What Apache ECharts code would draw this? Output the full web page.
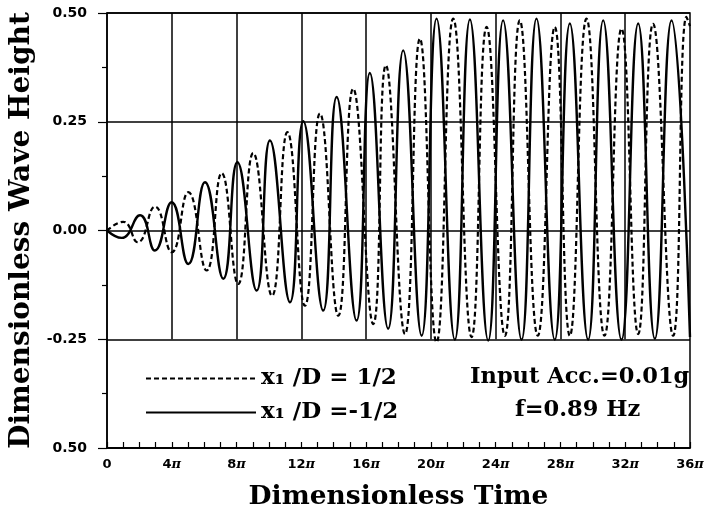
<!DOCTYPE html>
<html>
<head>
<meta charset="utf-8">
<script src="https://cdn.jsdelivr.net/npm/echarts@6/dist/echarts.min.js"></script>
<style>
	html, body { margin: 0; padding: 0; background: #fff; }
	#P1 { width: 706px; height: 506px; }
</style>
</head>
<body>
<div id="P1"></div>
<script>
var dashT = [0, 1.0, 1.9, 2.96, 4.0, 5.02, 6.15, 7.08, 8.1, 9.03, 10.19, 11.14, 12.22, 13.15, 14.28, 15.2, 16.44, 17.22, 18.4, 19.32, 20.35, 21.38, 22.51, 23.44, 24.57, 25.49, 26.6, 27.65, 28.58, 29.61, 30.72, 31.77, 32.8, 33.72, 34.96, 35.78, 36.0];
var dashV = [0, 0.02, -0.027, 0.055, -0.05, 0.088, -0.092, 0.132, -0.123, 0.178, -0.150, 0.226, -0.173, 0.269, -0.196, 0.326, -0.215, 0.380, -0.238, 0.441, -0.257, 0.487, -0.245, 0.468, -0.242, 0.483, -0.242, 0.468, -0.242, 0.487, -0.242, 0.464, -0.238, 0.475, -0.242, 0.491, 0.47];

var solidT = [0, 0.9, 2.04, 2.96, 3.99, 5.02, 6.05, 7.18, 8.05, 9.24, 10.06, 11.3, 12.12, 13.35, 14.18, 15.41, 16.23, 17.36, 18.29, 19.43, 20.35, 21.48, 22.41, 23.54, 24.46, 25.6, 26.52, 27.65, 28.58, 29.71, 30.64, 31.77, 32.8, 33.83, 34.86, 36.0];
var solidV = [0, -0.017, 0.035, -0.046, 0.065, -0.077, 0.111, -0.111, 0.157, -0.138, 0.207, -0.165, 0.251, -0.184, 0.307, -0.207, 0.362, -0.226, 0.414, -0.242, 0.487, -0.251, 0.485, -0.253, 0.483, -0.251, 0.487, -0.251, 0.476, -0.251, 0.483, -0.251, 0.476, -0.249, 0.483, -0.245];

var seriesNames = ['x\u2081 /D = 1/2', 'x\u2081 /D =-1/2'];
var xTickLabels = ['0', '4\u03c0', '8\u03c0', '12\u03c0', '16\u03c0', '20\u03c0', '24\u03c0', '28\u03c0', '32\u03c0', '36\u03c0'];
var yTickLabels = ['0.50', '-0.25', '0.00', '0.25', '0.50']; // bottom one is printed without the minus in the original
var vGridTicks = [4, 8, 12, 16, 20, 24, 28, 32];
var notes = ['Input Acc.=0.01g', 'f=0.89 Hz'];

function pairs(t, v) {
	var out = [];
	for (var i = 0; i < t.length; i++) {
		out.push([t[i], v[i]]);
	}
	return out;
}

function drawChart() {
	var myChart = echarts.init(document.getElementById('P1'));
	var serif = 'DejaVu Serif';

	// vertical grid lines only run down to the -0.25 line, the legend sits below
	var vLines = [];
	for (var i = 0; i < vGridTicks.length; i++) {
		vLines.push([{ coord: [vGridTicks[i], 0.5] }, { coord: [vGridTicks[i], -0.25] }]);
	}

	var option = {
		backgroundColor: '#fff',
		animation: false,
		color: ['#000', '#000'],
		grid: {
			left: 107,
			right: 16,
			top: 13,
			bottom: 58,
			outerBoundsMode: 'none',
			containLabel: false,
			show: true,
			borderColor: '#000',
			borderWidth: 1.5
		},
		legend: {
			data: seriesNames,
			orient: 'vertical',
			left: 145,
			top: 367,
			padding: 0,
			itemWidth: 110,
			itemHeight: 14,
			itemGap: 11,
			itemStyle: { opacity: 0 },
			textStyle: {
				fontFamily: serif,
				fontWeight: 'bold',
				fontSize: 23,
				lineHeight: 22,
				color: '#000'
			}
		},
		graphic: [{
			type: 'text',
			left: 470,
			top: 366,
			style: { text: notes[0], fontFamily: serif, fontWeight: 'bold', fontSize: 22.5, fill: '#000' }
		}, {
			type: 'text',
			left: 515,
			top: 399,
			style: { text: notes[1], fontFamily: serif, fontWeight: 'bold', fontSize: 22.5, fill: '#000' }
		}],
		xAxis: {
			type: 'value',
			min: 0,
			max: 36,
			interval: 4,
			name: 'Dimensionless Time',
			nameLocation: 'middle',
			nameGap: 36,
			nameTextStyle: { fontFamily: serif, fontWeight: 'bold', fontSize: 26.5, color: '#000' },
			axisLine: { onZero: false, lineStyle: { color: '#000', width: 1.5 } },
			axisTick: { inside: true, length: 6, lineStyle: { color: '#000', width: 1.2 } },
			minorTick: { show: true, splitNumber: 4, length: 6, lineStyle: { color: '#000', width: 1.2 } },
			splitLine: { show: false },
			axisLabel: {
				margin: 10,
				color: '#000',
				formatter: function(v) {
					var s = xTickLabels[Math.round(v / 4)];
					if (s === '0') return '{n|0}';
					return '{n|' + s.slice(0, -1) + '}{p|\u03c0}';
				},
				rich: {
					n: { fontFamily: 'DejaVu Sans', fontWeight: 'bold', fontSize: 13, color: '#000' },
					p: { fontFamily: 'DejaVu Serif', fontStyle: 'italic', fontWeight: 'bold', fontSize: 13, color: '#000' }
				}
			}
		},
		yAxis: {
			type: 'value',
			min: -0.5,
			max: 0.5,
			interval: 0.25,
			name: 'Dimensionless Wave Height',
			nameLocation: 'middle',
			nameGap: 70,
			nameRotate: 90,
			nameTextStyle: { fontFamily: serif, fontWeight: 'bold', fontSize: 28, color: '#000' },
			axisLine: { lineStyle: { color: '#000', width: 1.5 } },
			axisTick: { inside: false, length: 9, lineStyle: { color: '#000', width: 1.2 } },
			minorTick: { show: true, splitNumber: 2, length: 5, lineStyle: { color: '#000', width: 1.2 } },
			splitLine: { show: true, lineStyle: { color: '#000', width: 1.5 } },
			axisLabel: {
				margin: 20,
				fontFamily: 'DejaVu Sans',
				fontWeight: 'bold',
				fontSize: 14,
				color: '#000',
				formatter: function(v) {
					return yTickLabels[Math.round((v + 0.5) / 0.25)];
				}
			}
		},
		series: [{
			name: seriesNames[0],
			type: 'line',
			data: pairs(dashT, dashV),
			smooth: 0.5,
			symbol: 'none',
			itemStyle: { color: '#000' },
			lineStyle: { color: '#000', width: 2.2, type: [5, 3] }
		}, {
			name: seriesNames[1],
			type: 'line',
			data: pairs(solidT, solidV),
			smooth: 0.5,
			symbol: 'none',
			itemStyle: { color: '#000' },
			lineStyle: { color: '#000', width: 2.4, type: 'solid' },
			markLine: {
				silent: true,
				symbol: ['none', 'none'],
				label: { show: false },
				lineStyle: { color: '#000', width: 1.5, type: 'solid' },
				data: vLines
			}
		}]
	};
	myChart.setOption(option);
}

drawChart();
</script>
</body>
</html>
